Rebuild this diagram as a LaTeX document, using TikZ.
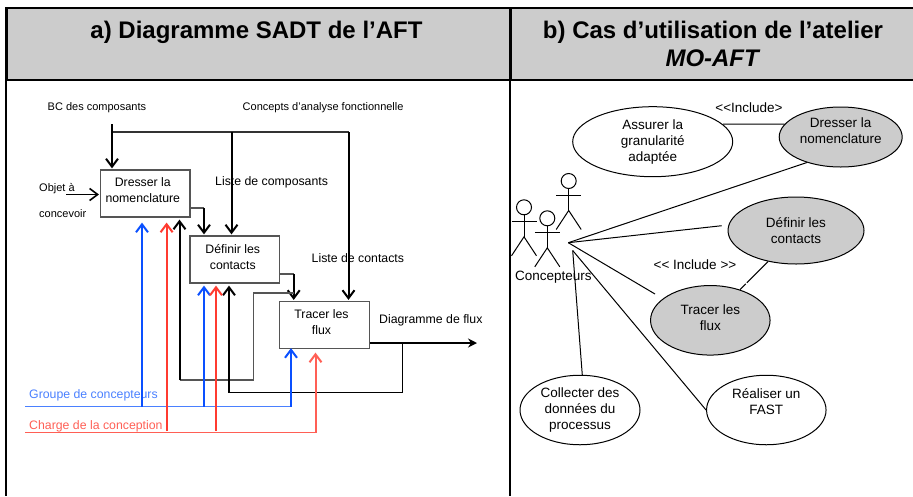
\documentclass[tikz,border=0pt]{standalone}
\usepackage{fontspec}
\setmainfont{Liberation Sans}
\usetikzlibrary{calc,shapes.geometric,arrows.meta}

\definecolor{bandgray}{HTML}{CCCCCC}
\definecolor{boxgray}{HTML}{555555}
\definecolor{flowblue}{HTML}{0A50FF}
\definecolor{flowred}{HTML}{FF3B30}
\definecolor{lineblue}{HTML}{4A80FF}
\definecolor{linered}{HTML}{FF5F55}

\tikzset{
  band/.style={fill=bandgray,draw=black,line width=2pt,minimum height=72pt,anchor=north west,inner sep=0pt},
  title/.style={font=\fontsize{24}{28}\selectfont\bfseries,align=center,inner sep=0pt},
  mag/.style={draw=boxgray,line width=1.2pt,fill=white,minimum width=89.5pt,minimum height=47pt,inner sep=0pt},
  magtext/.style={font=\fontsize{12.3}{16}\selectfont,align=center,inner sep=0pt},
  small/.style={font=\fontsize{11}{13}\selectfont,anchor=west,inner sep=0pt},
  mid/.style={font=\fontsize{12.3}{16}\selectfont,anchor=west,inner sep=0pt},
  usecase/.style={ellipse,draw=black,line width=1pt,inner sep=0pt,font=\fontsize{13.5}{16}\selectfont,align=center},
  casetext/.style={font=\fontsize{13.5}{16}\selectfont,align=center,inner sep=0pt},
  barb/.style={-{Straight Barb[length=8pt,width=12pt]},line width=2pt,shorten >=1pt},
  thin flow/.style={draw=boxgray,line width=1.2pt},
  link/.style={line width=1pt},
}

\begin{document}
\begin{tikzpicture}[x=1pt,y=-1pt]
\useasboundingbox (0,0) rectangle (913,496);

% header band
\node[band,minimum width=504pt] (heada) at (6,7) {};
\node[band,minimum width=405pt] (headb) at (510,7) {};
\coordinate (lefta) at (6,496);
\coordinate (leftb) at (510,496);
\draw[line width=2pt] (heada.north west) -- (lefta);
\draw[line width=2pt] (headb.north west) -- (leftb);
\node[title] (titlea) at (256.5,32) {a) Diagramme SADT de l’AFT};
\node[title] (titleb) at (713,44) {b) Cas d’utilisation de l’atelier\\\textit{MO-AFT}};

% boxes of the SADT
\node[mag] (dressermag) at (145.3,193.5) {};
\node[mag] (definirmag) at (234.8,259.5) {};
\node[mag] (tracermag) at (324.5,325) {};
\node[magtext] (dressertxt) at ($(dressermag.center)+(-2.5,-3)$) {Dresser la\\nomenclature};
\node[magtext] (definirtxt) at ($(definirmag.center)+(-2,-2.5)$) {Définir les\\contacts};
\node[magtext] (tracertxt) at ($(tracermag.center)+(-3,-3)$) {Tracer les\\flux};

% labels
\node[small] (bclabel) at (47.5,108) {BC des composants};
\node[small] (conceptlabel) at (242.5,108) {Concepts d’analyse fonctionnelle};
\node[small] (objetlabel) at (39,189) {Objet à};
\node[small] (concevoirlabel) at (39,214) {concevoir};
\node[mid] (listecomp) at (215,182.5) {Liste de composants};
\node[mid] (listecont) at (311.5,258) {Liste de contacts};
\node[mid] (diaglabel) at (379,320) {Diagramme de flux};
\node[mid,text=lineblue] (groupelabel) at (29,395) {Groupe de concepteurs};
\node[mid,text=linered] (chargelabel) at (29,426) {Charge de la conception};

% controls from the top
\coordinate (bcfree) at (112,124);
\coordinate (topleft) at (112,132);
\coordinate (topmid) at (231.5,132);
\coordinate (topright) at (348.5,132);
\draw[thin flow,draw=black!80] (topleft) -- (topright);
\draw[barb] (bcfree) -- (bcfree |- dressermag.north);
\draw[barb] (topmid) -- (topmid |- definirmag.north);
\draw[barb] (topright) -- (topright |- tracermag.north);

% input and outputs
\coordinate (objetfree) at (66,194.5);
\draw[barb,line width=1.6pt] (objetfree) -- (objetfree -| dressermag.west);
\coordinate (dresserout) at (190,208);
\coordinate (dresserdown) at (204,208);
\coordinate (definirout) at (279.5,274);
\coordinate (definirdown) at (293.7,274);
\draw[thin flow] (dresserout) -- (dresserdown);
\draw[barb] (dresserdown) -- (dresserdown |- definirmag.north);
\draw[thin flow] (definirout) -- (definirdown);
\draw[barb] (definirdown) -- (definirdown |- tracermag.north);
\coordinate (outfree) at (477,343);
\coordinate (outsplit) at (402.7,343);
\draw[-{Stealth[length=9pt,width=9pt]},line width=2pt] (tracermag.east |- outfree) -- (outfree);

% feedback to the boxes
\coordinate (backa) at (253.5,293);
\coordinate (backb) at (179.5,380);
\coordinate (backc) at (229,392.7);
\draw[thin flow] (definirdown |- backa) -- (backa) |- (backb);
\draw[barb] (backb) -- ($(backb |- dressermag.south)+(0,1)$);
\draw[black,line width=1pt] (outsplit) |- (backc);
\draw[barb] (backc) -- ($(backc |- definirmag.south)+(0,1)$);

% blue and red flows
\coordinate (bluefree) at (25,406.7);
\coordinate (redfree) at (25,432.7);
\coordinate (bluea) at (142,406.7);
\coordinate (blueb) at (204,406.7);
\coordinate (bluec) at (291,406.7);
\coordinate (reda) at (166.6,431);
\coordinate (redb) at (216,431);
\coordinate (redc) at (315.5,432.7);
\draw[lineblue,line width=1.2pt] (bluefree) -- (bluec);
\draw[linered,line width=1.2pt] (redfree) -- (redc);
\draw[barb,flowblue] (bluea) -- ($(bluea |- dressermag.south)+(0,4)$);
\draw[barb,flowblue] (blueb) -- ($(blueb |- definirmag.south)+(0,1)$);
\draw[barb,flowblue] (bluec) -- ($(bluec |- tracermag.south)+(0,-2)$);
\draw[barb,flowred] (reda) -- ($(reda |- dressermag.south)+(0,4)$);
\draw[barb,flowred] (redb) -- ($(redb |- definirmag.south)+(0,1)$);
\draw[barb,linered] (redc) -- ($(redc |- tracermag.south)+(0,2.5)$);

% use cases
\node[usecase,minimum width=160pt,minimum height=70pt] (assurer) at (652.7,141.7) {Assurer la\\granularité\\adaptée};
\node[usecase,fill=bandgray,minimum width=123pt,minimum height=60pt] (dressernom) at (840.7,137) {};
\node[usecase,fill=bandgray,minimum width=136pt,minimum height=67pt] (definir) at (796,230.5) {Définir les\\contacts};
\node[usecase,fill=bandgray,minimum width=119.5pt,minimum height=69.5pt] (tracer) at (710.3,320.3) {};
\node[usecase,minimum width=120pt,minimum height=69.5pt] (collecter) at (580,410) {Collecter des\\données du\\processus};
\node[usecase,minimum width=119.5pt,minimum height=69.5pt] (realiser) at (766.3,410) {};
\node[casetext] (dressercase) at ($(dressernom.center)+(0,-6)$) {Dresser la\\nomenclature};
\node[casetext] (tracercase) at ($(tracer.center)+(0,-3)$) {Tracer les\\flux};
\node[casetext] (realisercase) at ($(realiser.center)+(0,-8)$) {Réaliser un\\FAST};

\node[casetext] (incla) at (749,108) {<{}<Include>};
\node[casetext] (inclb) at (695,265) {<{}< Include >{}>};
\node[casetext] (conceptname) at (553.3,276.7) {Concepteurs};

% actors
\foreach \hx/\hy/\name in {568.7/181/one,524/207.3/two,547.3/218.3/three}{
  \node[circle,draw=black,line width=1pt,minimum size=15pt,inner sep=0pt] (head\name) at (\hx,\hy) {};
  \coordinate (neck\name) at ($(head\name.south)+(0,21.5)$);
  \coordinate (arml\name) at ($(head\name.south)+(-12.5,6.5)$);
  \coordinate (armr\name) at ($(head\name.south)+(12.5,6.5)$);
  \draw[link] (head\name.south) -- (neck\name);
  \draw[link] (arml\name) -- (armr\name);
  \draw[link] ($(neck\name)+(-12.5,19)$) -- (neck\name) -- ($(neck\name)+(12.5,19)$);
}

% links of the use cases
\coordinate (hub) at (568.3,242.7);
\coordinate (hubb) at (572.7,250.5);
\coordinate (collecterend) at (582.3,375);
\coordinate (definirfree) at (721.7,225.7);
\coordinate (tracerfree) at (655,294);
\draw[link] (hub) -- (dressernom.217);
\draw[link] (hub) -- (definirfree);
\draw[link] (hub) -- (tracerfree);
\draw[link] (hubb) -- (collecterend);
\draw[link] (hubb) -- (realiser.west);
\draw[link] (assurer.14) -- (dressernom.167);
\draw[link,dash pattern=on 30pt off 1.5pt] (definir.228) -- (tracer.46);

\end{tikzpicture}
\end{document}
